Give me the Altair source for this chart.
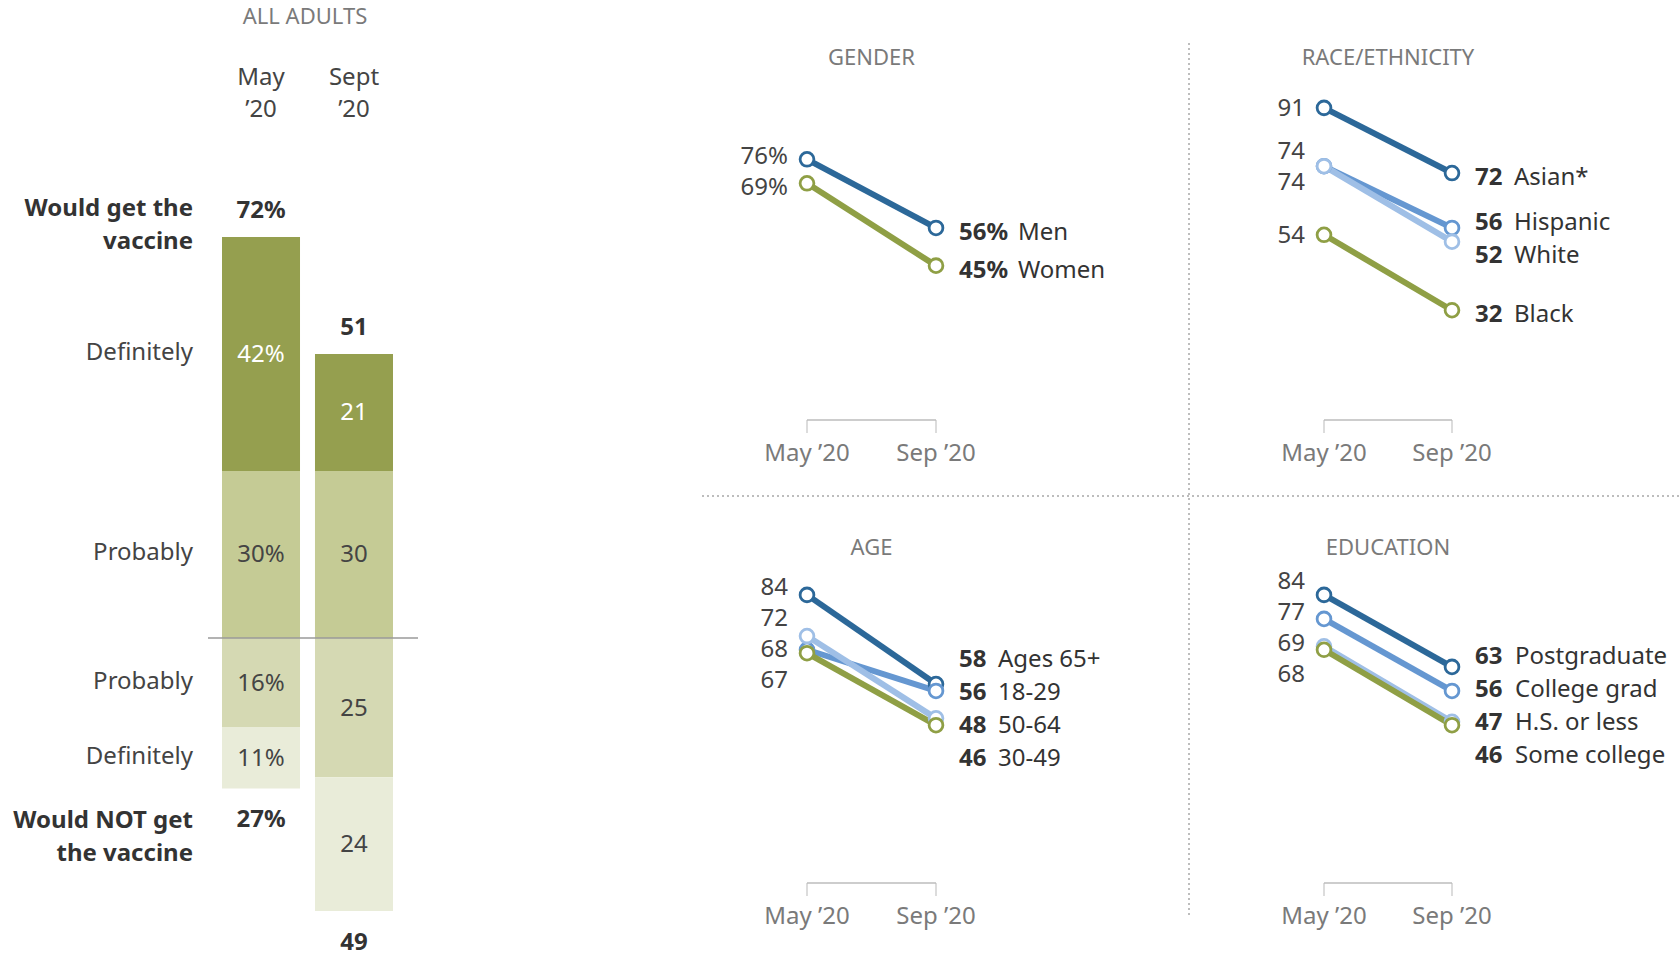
import altair as alt
import pandas as pd

FONT = "Noto Sans"
INK = "#333333"
SOFT_INK = "#444444"
GREY = "#7a7a7a"

# ---- All adults: would / would not get a coronavirus vaccine ----
bar_periods = ["May '20", "Sept '20"]
bar_head_line1 = ["May", "Sept"]
bar_head_line2 = ["’20", "’20"]
get_definitely = [42, 21]
get_probably = [30, 30]
not_probably = [16, 25]
not_definitely = [11, 24]

# ---- Subgroups (would definitely/probably get the vaccine) ----
slope_periods = ["May ’20", "Sep ’20"]

gender_groups = ["Men", "Women"]
gender_may = [76, 69]
gender_sep = [56, 45]

race_groups = ["Asian*", "Hispanic", "White", "Black"]
race_may = [91, 74, 74, 54]
race_sep = [72, 56, 52, 32]

age_groups = ["Ages 65+", "18-29", "50-64", "30-49"]
age_may = [84, 68, 72, 67]
age_sep = [58, 56, 48, 46]

edu_groups = ["Postgraduate", "College grad", "H.S. or less", "Some college"]
edu_may = [84, 77, 69, 68]
edu_sep = [63, 56, 47, 46]

BLUE_DARK = "#2c6899"
BLUE_MID = "#6597d1"
BLUE_LIGHT = "#9fbfe6"
OLIVE = "#8f9f45"

SEG_KEYS = ["get_definitely", "get_probably", "not_probably", "not_definitely"]
SEG_COLORS = ["#959f4f", "#c5cb95", "#d5d9b3", "#e9ecd9"]
SEG_ROW_LABELS = ["Definitely", "Probably", "Probably", "Definitely"]


def text_mark(**kw):
    base = dict(font=FONT, fontSize=24, color=SOFT_INK)
    base.update(kw)
    return base


# ------------------------------------------------------------------
# Stacked bars for all adults
# ------------------------------------------------------------------
rows = []
totals = []
for i, period in enumerate(bar_periods):
    suffix = "%" if i == 0 else ""
    top = get_probably[i] + get_definitely[i]
    bottom = -(not_probably[i] + not_definitely[i])
    spans = [
        ("get_definitely", get_probably[i], top, get_definitely[i]),
        ("get_probably", 0, get_probably[i], get_probably[i]),
        ("not_probably", 0, -not_probably[i], not_probably[i]),
        ("not_definitely", -not_probably[i], bottom, not_definitely[i]),
    ]
    for (key, y0, y1, v), label in zip(spans, SEG_ROW_LABELS):
        rows.append(dict(period=period, segment=key, y0=y0, y1=y1,
                         mid=(y0 + y1) / 2, text=f"{v}{suffix}", row_label=label))
    totals.append(dict(period=period, top=top, bottom=bottom,
                       top_text=f"{top}{suffix}", bottom_text=f"{-bottom}{suffix}",
                       head1=bar_head_line1[i], head2=bar_head_line2[i]))
segs = pd.DataFrame(rows)
tot = pd.DataFrame(totals)
first = tot[tot.period == bar_periods[0]]

BAR_X = alt.Scale(type="band", domain=bar_periods, range=[222, 393],
                  paddingInner=0.161, paddingOuter=0)
BAR_Y = alt.Scale(domain=[0, 100], range=[638, 81], nice=False, zero=False)
bx = alt.X("period:N", scale=BAR_X, axis=None)

bars = alt.Chart(segs).mark_bar().encode(
    x=bx,
    y=alt.Y("y0:Q", scale=BAR_Y, axis=None),
    y2="y1:Q",
    color=alt.Color("segment:N", scale=alt.Scale(domain=SEG_KEYS, range=SEG_COLORS), legend=None),
)
seg_text = alt.Chart(segs).mark_text(**text_mark(dy=1)).encode(
    x=bx,
    y=alt.Y("mid:Q", scale=BAR_Y, axis=None),
    text="text:N",
    color=alt.condition(alt.datum.segment == "get_definitely", alt.value("white"), alt.value(SOFT_INK)),
)
row_text = alt.Chart(segs[segs.period == bar_periods[0]]).mark_text(
    **text_mark(align="right", dx=-68, dy=-1)
).encode(x=bx, y=alt.Y("mid:Q", scale=BAR_Y, axis=None), text="row_label:N")

top_tot = alt.Chart(tot).mark_text(**text_mark(fontWeight="bold", color=INK, dy=-26)).encode(
    x=bx, y=alt.Y("top:Q", scale=BAR_Y, axis=None), text="top_text:N")
bot_tot = alt.Chart(tot).mark_text(**text_mark(fontWeight="bold", color=INK, dy=32)).encode(
    x=bx, y=alt.Y("bottom:Q", scale=BAR_Y, axis=None), text="bottom_text:N")


def group_label(field, words, dy):
    return alt.Chart(first).mark_text(
        **text_mark(fontWeight="bold", color=INK, align="right", dx=-68, dy=dy)
    ).encode(x=bx, y=alt.Y(f"{field}:Q", scale=BAR_Y, axis=None), text=alt.value(words))


zero_rule = alt.Chart(pd.DataFrame({"zero": [0]})).mark_rule(color="#9a9a9a", strokeWidth=1.5).encode(
    y=alt.Y("zero:Q", scale=BAR_Y, axis=None), x=alt.value(208), x2=alt.value(418))

head1 = alt.Chart(tot).mark_text(**text_mark()).encode(x=bx, y=alt.value(78), text="head1:N")
head2 = alt.Chart(tot).mark_text(**text_mark()).encode(x=bx, y=alt.value(110), text="head2:N")
all_adults = alt.Chart(pd.DataFrame({"t": ["ALL ADULTS"]})).mark_text(
    **text_mark(fontSize=22, color=GREY)).encode(x=alt.value(305), y=alt.value(17), text="t:N")

bar_panel = alt.layer(
    bars, zero_rule, seg_text, row_text, top_tot, bot_tot,
    group_label("top", "Would get the", -28), group_label("top", "vaccine", 5),
    group_label("bottom", "Would NOT get", 33), group_label("bottom", "the vaccine", 66),
    head1, head2, all_adults,
)


# ------------------------------------------------------------------
# Slope panels
# ------------------------------------------------------------------
def spread(values, gap):
    """Push label positions apart so neighbours are at least `gap` units apart."""
    pos = [float(v) for v in values]
    order = sorted(range(len(pos)), key=lambda i: -pos[i])
    for _ in range(500):
        moved = False
        for a, b in zip(order, order[1:]):
            d = pos[a] - pos[b]
            if d < gap - 1e-6:
                push = (gap - d) / 2
                pos[a] += push
                pos[b] -= push
                moved = True
        if not moved:
            break
    return pos


def slope_panel(title, groups, may, sep, colors, x_range, y_range, title_y, pct, name_dx):
    xs = alt.Scale(type="point", domain=slope_periods, range=x_range, padding=0)
    ys = alt.Scale(domain=[0, 100], range=y_range, nice=False, zero=False)
    cs = alt.Scale(domain=groups, range=colors)

    long = pd.DataFrame([
        dict(group=g, period=p, value=v)
        for g, a, b in zip(groups, may, sep)
        for p, v in zip(slope_periods, (a, b))
    ])
    suffix = "%" if pct else ""
    labels = pd.DataFrame(dict(
        group=groups,
        first=slope_periods[0],
        last=slope_periods[1],
        left_pos=spread(may, 9.0),
        right_pos=spread(sep, 9.6),
        left_text=[f"{v}{suffix}" for v in may],
        right_num=[f"{v}{suffix}" for v in sep],
    ))
    base_axis = pd.DataFrame(dict(period=slope_periods, zero=[0, 0]))

    x = alt.X("period:N", scale=xs, axis=None)
    axis_line = alt.Chart(base_axis).mark_line(color="#bdbdbd", strokeWidth=1.5).encode(
        x=x, y=alt.Y("zero:Q", scale=ys, axis=None))
    axis_ticks = alt.Chart(base_axis).mark_tick(
        orient="vertical", color="#bdbdbd", size=13, thickness=1.5, yOffset=6.5
    ).encode(x=x, y=alt.Y("zero:Q", scale=ys, axis=None))
    axis_text = alt.Chart(base_axis).mark_text(**text_mark(color=GREY, dy=34)).encode(
        x=x, y=alt.Y("zero:Q", scale=ys, axis=None), text="period:N")
    head = alt.Chart(pd.DataFrame({"t": [title]})).mark_text(
        **text_mark(fontSize=22, color=GREY)
    ).encode(x=alt.value((x_range[0] + x_range[1]) / 2), y=alt.value(title_y), text="t:N")

    lines = alt.Chart(long).mark_line(strokeWidth=6).encode(
        x=x, y=alt.Y("value:Q", scale=ys, axis=None),
        color=alt.Color("group:N", scale=cs, legend=None),
        detail="group:N",
    )
    dots = alt.Chart(long).mark_point(shape="circle", filled=True, size=190, strokeWidth=2.8, opacity=1).encode(
        x=x, y=alt.Y("value:Q", scale=ys, axis=None),
        fill=alt.value("white"),
        stroke=alt.Stroke("group:N", scale=cs, legend=None),
    )
    left = alt.Chart(labels).mark_text(**text_mark(align="right", dx=-19, dy=1)).encode(
        x=alt.X("first:N", scale=xs, axis=None),
        y=alt.Y("left_pos:Q", scale=ys, axis=None), text="left_text:N")
    right_num = alt.Chart(labels).mark_text(
        **text_mark(align="left", dx=23, dy=5, fontWeight="bold", color=INK)
    ).encode(x=alt.X("last:N", scale=xs, axis=None),
             y=alt.Y("right_pos:Q", scale=ys, axis=None), text="right_num:N")
    right_name = alt.Chart(labels).mark_text(
        **text_mark(align="left", dx=name_dx, dy=5, color=INK)
    ).encode(x=alt.X("last:N", scale=xs, axis=None),
             y=alt.Y("right_pos:Q", scale=ys, axis=None), text="group:N")

    return alt.layer(axis_line, axis_ticks, axis_text, head, lines, dots, left, right_num, right_name)


TOP_Y = [420, 77]
BOTTOM_Y = [883, 540]
LEFT_X = [807, 936]
RIGHT_X = [1324, 1452]
PALETTE4 = [BLUE_DARK, BLUE_MID, BLUE_LIGHT, OLIVE]

gender = slope_panel("GENDER", gender_groups, gender_may, gender_sep, [BLUE_DARK, OLIVE],
                     LEFT_X, TOP_Y, 58, True, 82)
race = slope_panel("RACE/ETHNICITY", race_groups, race_may, race_sep, PALETTE4,
                   RIGHT_X, TOP_Y, 58, False, 62)
age = slope_panel("AGE", age_groups, age_may, age_sep, PALETTE4,
                  LEFT_X, BOTTOM_Y, 548, False, 62)
edu = slope_panel("EDUCATION", edu_groups, edu_may, edu_sep, PALETTE4,
                  RIGHT_X, BOTTOM_Y, 548, False, 63)

# dotted dividers between the subgroup panels
one = pd.DataFrame({"k": [0]})
v_div = alt.Chart(one).mark_rule(color="#a8a8a8", strokeWidth=1.5, strokeDash=[2, 3]).encode(
    x=alt.value(1189), y=alt.value(43), y2=alt.value(916))
h_div = alt.Chart(one).mark_rule(color="#a8a8a8", strokeWidth=1.5, strokeDash=[2, 3]).encode(
    y=alt.value(496), x=alt.value(702), x2=alt.value(1680))

chart = alt.layer(bar_panel, gender, race, age, edu, v_div, h_div).resolve_scale(
    x="independent", y="independent", color="independent", stroke="independent"
).properties(
    width=1680, height=958, padding=0,
    autosize=alt.AutoSizeParams(type="none"), background="white",
).configure_view(stroke=None)

chart.save("out.html", embed_options={"renderer": "svg", "actions": False})
